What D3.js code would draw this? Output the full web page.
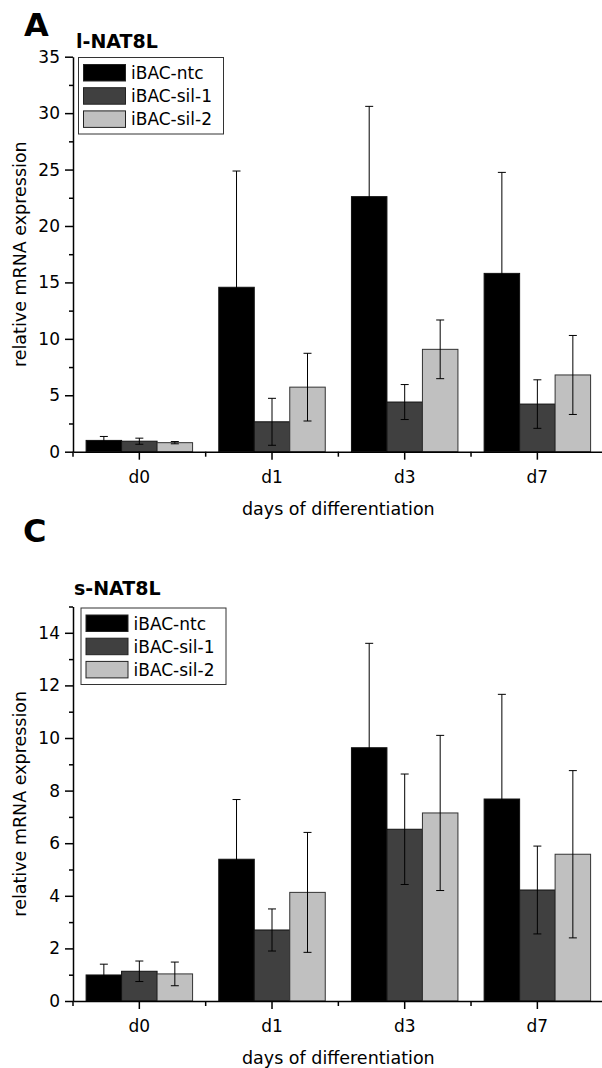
<!DOCTYPE html>
<html>
<head>
<meta charset="utf-8">
<script src="https://cdn.jsdelivr.net/npm/d3@7/dist/d3.min.js"></script>
<style>
  html, body { margin: 0; padding: 0; background: #fff; }
  svg text { font-family: "DejaVu Sans", sans-serif; fill: #000; }
</style>
</head>
<body>
<div id="chart"></div>
<script>
// data
var days = ['d0', 'd1', 'd3', 'd7'];
var series = ['iBAC-ntc', 'iBAC-sil-1', 'iBAC-sil-2'];
var colors = ['#000000', '#404040', '#c0c0c0'];

// l-NAT8L (panel A)
var lNtc = [1.0, 14.57, 22.6, 15.8];
var lNtcErr = [0.35, 10.3, 8.0, 8.95];
var lSil1 = [0.93, 2.65, 4.4, 4.22];
var lSil1Err = [0.27, 2.08, 1.55, 2.15];
var lSil2 = [0.8, 5.72, 9.07, 6.8];
var lSil2Err = [0.1, 3.0, 2.6, 3.5];
var lTicks = [0, 5, 10, 15, 20, 25, 30, 35];

// s-NAT8L (panel C)
var sNtc = [0.99, 5.39, 9.63, 7.68];
var sNtcErr = [0.41, 2.27, 3.97, 3.98];
var sSil1 = [1.13, 2.7, 6.53, 4.22];
var sSil1Err = [0.39, 0.8, 2.1, 1.67];
var sSil2 = [1.03, 4.13, 7.15, 5.58];
var sSil2Err = [0.45, 2.28, 2.95, 3.18];
var sTicks = [0, 2, 4, 6, 8, 10, 12, 14];

var W = 602, H = 1068;
var svg = d3.select('#chart').append('svg')
  .attr('width', W)
  .attr('height', H);

function panel(o) {
  var x = d3.scaleBand().domain(days).range([73, 603.7]).padding(0);
  var xs = d3.scaleBand().domain(series).range([0, x.bandwidth()])
    .paddingInner(0).paddingOuter(0.369);
  var y = d3.scaleLinear().domain([0, o.ymax]).range([o.bottom, o.top]);

  var g = svg.append('g');

  // one row per bar
  var rows = [];
  o.values.forEach(function(vals, si) {
    vals.forEach(function(v, di) {
      rows.push({ day: days[di], s: series[si], si: si, v: v, e: o.errs[si][di] });
    });
  });

  g.selectAll('rect.bar').data(rows).enter().append('rect')
    .attr('class', 'bar')
    .attr('x', function(d) { return x(d.day) + xs(d.s); })
    .attr('y', function(d) { return y(d.v); })
    .attr('width', xs.bandwidth())
    .attr('height', function(d) { return y(0) - y(d.v); })
    .attr('fill', function(d) { return colors[d.si]; })
    .attr('stroke', function(d) { return d.si == 2 ? '#333' : '#111'; })
    .attr('stroke-width', 1);

  // error bars
  var eb = g.selectAll('g.err').data(rows).enter().append('g')
    .attr('class', 'err')
    .attr('transform', function(d) {
      return 'translate(' + (x(d.day) + xs(d.s) + xs.bandwidth() / 2) + ',0)';
    })
    .attr('stroke', '#000')
    .attr('stroke-width', 1);
  eb.append('line')
    .attr('y1', function(d) { return y(d.v - d.e); })
    .attr('y2', function(d) { return y(d.v + d.e); });
  eb.append('line')
    .attr('x1', -4).attr('x2', 4)
    .attr('y1', function(d) { return y(d.v + d.e); })
    .attr('y2', function(d) { return y(d.v + d.e); });
  eb.append('line')
    .attr('x1', -4).attr('x2', 4)
    .attr('y1', function(d) { return y(d.v - d.e); })
    .attr('y2', function(d) { return y(d.v - d.e); });

  // x axis
  var xa = g.append('g')
    .attr('transform', 'translate(0,' + y(0) + ')')
    .call(d3.axisBottom(x).tickSize(8).tickPadding(11).tickSizeOuter(0));
  xa.select('.domain').attr('stroke-width', 1.5);
  xa.selectAll('.tick line').attr('stroke-width', 1.5);
  xa.selectAll('text').attr('font-size', 17);
  // minor x ticks between categories
  g.selectAll('line.xminor').data(days).enter().append('line')
    .attr('class', 'xminor')
    .attr('x1', function(d) { return x(d); })
    .attr('x2', function(d) { return x(d); })
    .attr('y1', y(0)).attr('y2', y(0) + 5)
    .attr('stroke', '#000').attr('stroke-width', 1.5);

  // y axis
  var ya = g.append('g')
    .attr('transform', 'translate(73,0)')
    .call(d3.axisLeft(y).tickValues(o.ticks).tickSize(8).tickPadding(5).tickSizeOuter(0));
  ya.select('.domain').attr('stroke-width', 1.5);
  ya.selectAll('.tick line').attr('stroke-width', 1.5);
  ya.selectAll('text').attr('font-size', 17);
  var step = o.ticks[1] - o.ticks[0];
  g.append('g')
    .attr('transform', 'translate(73,0)')
    .call(d3.axisLeft(y).tickValues(d3.range(step / 2, o.ymax + 0.01, step))
      .tickSize(4).tickFormat(''))
    .call(function(a) {
      a.select('.domain').remove();
      a.selectAll('.tick line').attr('stroke-width', 1.5);
    });

  // axis titles
  g.append('text')
    .attr('transform', 'translate(26,' + ((o.top + o.bottom) / 2) + ') rotate(-90)')
    .attr('text-anchor', 'middle')
    .attr('font-size', 17.5)
    .text('relative mRNA expression');
  g.append('text')
    .attr('x', (73 + 603.7) / 2)
    .attr('y', o.bottom + 63)
    .attr('text-anchor', 'middle')
    .attr('font-size', 17.5)
    .text('days of differentiation');

  // panel letter + title
  g.append('text')
    .attr('x', o.letterX).attr('y', o.letterY)
    .attr('font-size', 32).attr('font-weight', 'bold')
    .text(o.letter);
  g.append('text')
    .attr('x', o.titleX).attr('y', o.titleY)
    .attr('font-size', 19).attr('font-weight', 'bold')
    .text(o.title);

  // legend
  var lg = g.append('g').attr('transform', 'translate(' + o.legX + ',' + o.legY + ')');
  lg.append('rect')
    .attr('width', 145).attr('height', 76.5)
    .attr('fill', '#fff').attr('stroke', '#333').attr('stroke-width', 1);
  var it = lg.selectAll('g.item').data(series).enter().append('g')
    .attr('class', 'item')
    .attr('transform', function(d, i) { return 'translate(5,' + (7 + i * 23.2) + ')'; });
  it.append('rect')
    .attr('width', 42).attr('height', 16.5)
    .attr('fill', function(d, i) { return colors[i]; })
    .attr('stroke', '#222').attr('stroke-width', 1);
  it.append('text')
    .attr('x', 47.5).attr('y', 14.5)
    .attr('font-size', 17)
    .text(function(d) { return d; });
}

panel({
  values: [lNtc, lSil1, lSil2],
  errs: [lNtcErr, lSil1Err, lSil2Err],
  ticks: lTicks, ymax: 35,
  top: 56.7, bottom: 451.7,
  letter: 'A', letterX: 24, letterY: 36,
  title: 'l-NAT8L', titleX: 76, titleY: 47.5,
  legX: 78.5, legY: 57.5
});

panel({
  values: [sNtc, sSil1, sSil2],
  errs: [sNtcErr, sSil1Err, sSil2Err],
  ticks: sTicks, ymax: 15,
  top: 606.5, bottom: 1001,
  letter: 'C', letterX: 23, letterY: 542,
  title: 's-NAT8L', titleX: 74, titleY: 595,
  legX: 81, legY: 608
});
</script>
</body>
</html>
